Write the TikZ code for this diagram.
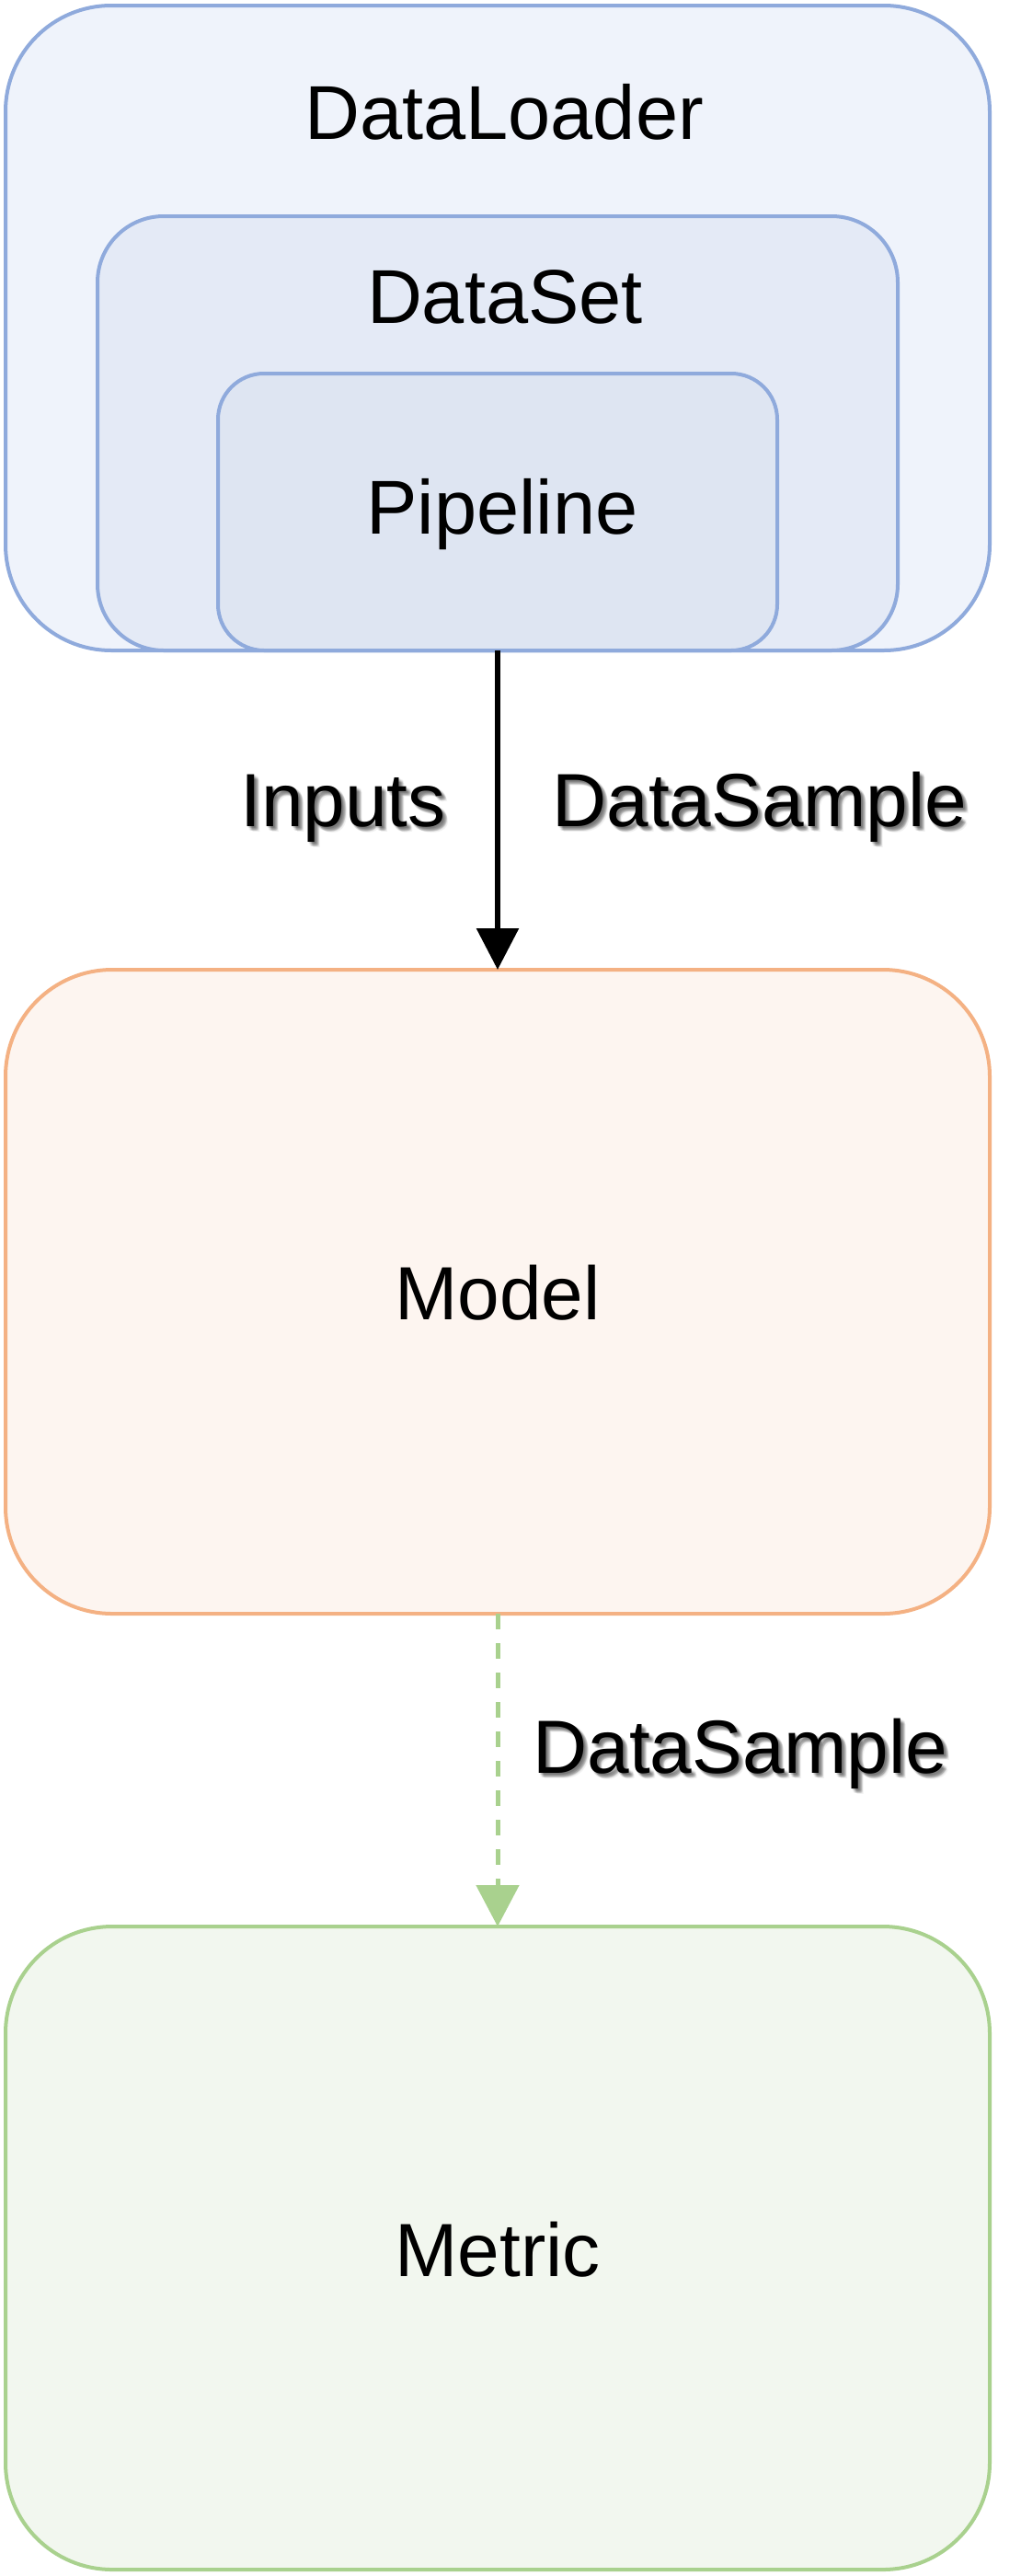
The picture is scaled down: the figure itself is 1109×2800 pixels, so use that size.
\documentclass[tikz,border=0pt]{standalone}
\usepackage{fontspec}
\setmainfont{Liberation Sans}
\usetikzlibrary{arrows.meta}
\definecolor{bluebd}{HTML}{8FAADC}
\definecolor{dlfill}{HTML}{EFF3FB}
\definecolor{dsfill}{HTML}{E4EAF6}
\definecolor{plfill}{HTML}{DEE5F2}
\definecolor{orbd}{HTML}{F4B183}
\definecolor{orfill}{HTML}{FDF5F0}
\definecolor{grbd}{HTML}{A9D18E}
\definecolor{grfill}{HTML}{F2F7EF}
\tikzset{
  box/.style={draw, line width=4pt, rectangle, inner sep=0pt, outer sep=0pt},
  lbl/.style={inner sep=0pt, font=\fontsize{83}{96}\selectfont},
  llbl/.style={inner sep=0pt, font=\fontsize{82}{96}\selectfont},
  flbl/.style={inner sep=0pt, font=\fontsize{82}{96}\selectfont},
  shd/.style={inner sep=0pt, font=\fontsize{82}{96}\selectfont, text=black, opacity=0.055},
  arr/.style={line width=6pt, -{Triangle[width=45pt,length=45pt]}},
  darr/.style={line width=5pt, grbd, dash pattern=on 17pt off 15pt, -{Triangle[width=46pt,length=45pt]}}
}
\begin{document}
\begin{tikzpicture}[x=1pt,y=-1pt]
\useasboundingbox[fill=white] (0,0) rectangle (1109,2800);
% boxes
\node[box, draw=bluebd, fill=dlfill, rounded corners=115pt, minimum width=1070pt, minimum height=701pt] (dl) at (541,356.5) {};
\node[box, draw=bluebd, fill=dsfill, rounded corners=72pt, minimum width=870pt, minimum height=472pt] (ds) at (541,471) {};
\node[box, draw=bluebd, fill=plfill, rounded corners=50pt, minimum width=608pt, minimum height=301pt] (pl) at (541,556.5) {};
\node[box, draw=orbd, fill=orfill, rounded corners=116pt, minimum width=1070pt, minimum height=700pt] (model) at (541,1404) {};
\node[box, draw=grbd, fill=grfill, rounded corners=116pt, minimum width=1070pt, minimum height=699pt] (metric) at (541,2443.5) {};
% box labels
\node[lbl, anchor=base] (dlt) at (548,151) {DataLoader};
\node[lbl, anchor=base] (dst) at (549,351) {DataSet};
\node[lbl, anchor=base] (plt) at (546,580) {Pipeline};
\node[llbl, anchor=base] (modelt) at (541,1434) {Model};
\node[llbl, anchor=base] (metrict) at (541,2474) {Metric};
% connectors
\draw[arr] (pl.south) -- (model.north);
\draw[darr] (model.south) -- (metric.north);
% shadowed edge labels
\foreach \dx/\dy in {1/2,2/1,2/2,3/3,4/4,2/4,4/2,5/3,3/5,5/5,6/6,4/5,5/4}{
  \node[shd, anchor=base east] at (485+\dx,898+\dy) {Inputs};
  \node[shd, anchor=base west] at (600+\dx,898+\dy) {DataSample};
  \node[shd, anchor=base west] at (579+\dx,1927+\dy) {DataSample};
}
\node[flbl, anchor=base east] (inl) at (485,898) {Inputs};
\node[flbl, anchor=base west] (ds1) at (600,898) {DataSample};
\node[flbl, anchor=base west] (ds2) at (579,1927) {DataSample};
\end{tikzpicture}
\end{document}
